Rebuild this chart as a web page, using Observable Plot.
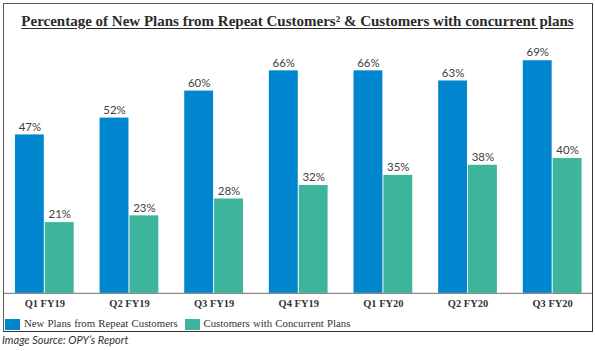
<!DOCTYPE html>
<html>
<head>
<meta charset="utf-8">
<script src="https://cdn.jsdelivr.net/npm/d3@7"></script>
<script src="https://cdn.jsdelivr.net/npm/@observablehq/plot@0.6"></script>
<style>
  html, body { margin: 0; padding: 0; background: #fff; }
  body { width: 595px; height: 351px; position: relative; overflow: hidden; }
  #box { position: absolute; left: 3px; top: 3px; width: 590px; height: 329px; box-sizing: border-box;
         border: 1.5px solid #5a5a5a; border-right-color: #333; border-bottom-color: #333; overflow: hidden; }
  #title { position: absolute; left: 0; top: 9px; width: 587px; text-align: center;
           font-family: "Liberation Serif", serif; font-weight: bold; font-size: 15px; color: #2b2b2b;
           text-decoration: underline; text-underline-offset: 2px; white-space: nowrap; }
  #chart { position: absolute; left: -4.5px; top: 36px; }
  #legend { position: absolute; left: 0; top: 313px; font-family: "Liberation Serif", serif; font-size: 10.8px; color: #333; white-space: nowrap; }
  .sw { position: absolute; top: 2px; width: 15px; height: 11px; }
  .lt { position: absolute; top: 0px; word-spacing: 0.5px; }
  #caption { position: absolute; left: 2px; top: 333px; font-family: "Lato", sans-serif; font-style: italic; font-size: 11px; color: #333; }
</style>
</head>
<body>
<div id="box">
  <div id="title">Percentage of New Plans from Repeat Customers² &amp; Customers with concurrent plans</div>
  <div id="chart"></div>
  <div id="legend">
    <div class="sw" style="left:1px;background:#0086CF"></div>
    <div class="lt" style="left:20px">New Plans from Repeat Customers</div>
    <div class="sw" style="left:180.5px;background:#3DB59C"></div>
    <div class="lt" style="left:199.5px">Customers with Concurrent Plans</div>
  </div>
</div>
<div id="caption">Image Source: OPY’s Report</div>
<script>
const quarters = ["Q1 FY19", "Q2 FY19", "Q3 FY19", "Q4 FY19", "Q1 FY20", "Q2 FY20", "Q3 FY20"];
const repeatCustomers = [47, 52, 60, 66, 66, 63, 69];
const concurrentPlans = [21, 23, 28, 32, 35, 38, 40];
const seriesNames = ["New Plans from Repeat Customers", "Customers with Concurrent Plans"];
const colors = ["#0086CF", "#3DB59C"];

const rowsA = quarters.map((q, i) => ({quarter: q, value: repeatCustomers[i]}));
const rowsB = quarters.map((q, i) => ({quarter: q, value: concurrentPlans[i]}));

const chart = Plot.plot({
  width: 595,
  height: 276,
  marginLeft: 4,
  marginRight: 0,
  marginTop: 0,
  marginBottom: 22,
  style: {background: "transparent", overflow: "visible"},
  x: {domain: quarters, paddingInner: 0.3, paddingOuter: 0.1, label: null, tickSize: 0, tickPadding: 4},
  y: {domain: [0, 75], axis: null},
  marks: [
    Plot.barY(rowsA, {x: "quarter", y: "value", fill: colors[0], insetRight: 30}),
    Plot.barY(rowsB, {x: "quarter", y: "value", fill: colors[1], insetLeft: 30}),
    Plot.text(rowsA, {x: "quarter", y: "value", text: d => d.value + "%", dx: -15, dy: -8,
      fill: "#404040", fontFamily: "Lato, sans-serif", fontSize: 11.5}),
    Plot.text(rowsB, {x: "quarter", y: "value", text: d => d.value + "%", dx: 15, dy: -8,
      fill: "#404040", fontFamily: "Lato, sans-serif", fontSize: 11.5}),
    Plot.ruleY([0], {stroke: "#8a8a8a", strokeWidth: 1.2}),
    Plot.axisX({tickSize: 0, tickPadding: 6, fontFamily: "Liberation Serif, serif", fontWeight: "bold", fontSize: 10.5, fill: "#333", label: null})
  ]
});
document.getElementById("chart").appendChild(chart);
</script>
</body>
</html>
